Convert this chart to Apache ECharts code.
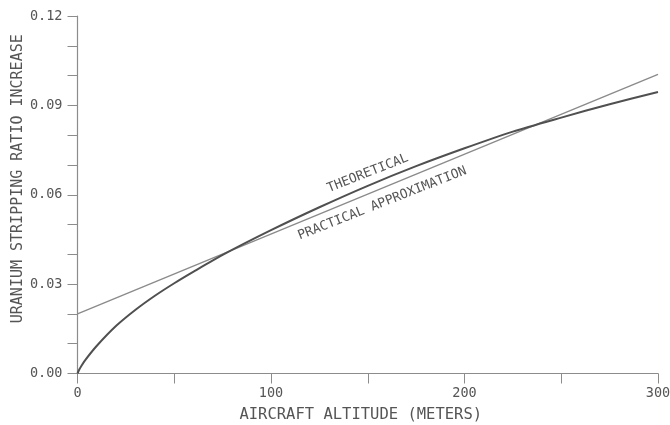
<!DOCTYPE html>
<html>
<head>
<meta charset="utf-8">
<script src="https://cdn.jsdelivr.net/npm/echarts@6/dist/echarts.min.js"></script>
<style>html,body{margin:0;padding:0;background:#fff}#c{width:670px;height:425px}</style>
</head>
<body>
<div id="c"></div>
<script>
// Data
var altitude    = [0, 1, 2, 4, 10, 20, 30, 40, 50, 60, 75, 100, 125, 150, 175, 200, 225, 250, 275, 300];
var theoretical = [0, 0.0014, 0.0025, 0.0045, 0.0093, 0.0160, 0.0214, 0.0261, 0.0303, 0.0342, 0.0398, 0.0481, 0.0558, 0.0630, 0.0696, 0.0756, 0.0812, 0.0859, 0.0904, 0.0945];
var practicalX = [0, 300];
var practicalY = [0.0200, 0.1004];
var xTicks = [0, 100, 200, 300];
var yTicks = [0.00, 0.03, 0.06, 0.09, 0.12];
var labelTheo = {text: 'THEORETICAL', x: 150, y: 0.0672, rot: 21.5};
var labelPrac = {text: 'PRACTICAL APPROXIMATION', x: 157.5, y: 0.0571, rot: 21.5};

var FONT = 'DejaVu Sans Mono';
var INK = '#555';

var chart = echarts.init(document.getElementById('c'));
var option = {
  animation: false,
  backgroundColor: '#fff',
  grid: {left: 77.5, right: 12, top: 16, bottom: 51.5, containLabel: false, outerBoundsMode: 'none'},
  xAxis: {
    type: 'value', min: 0, max: 300, interval: 50,
    name: 'AIRCRAFT ALTITUDE (METERS)', nameLocation: 'middle', nameGap: 33, nameMoveOverlap: false,
    nameTextStyle: {fontFamily: FONT, fontSize: 15.5, color: INK, padding: [0, 14, 0, 0]},
    axisLine: {show: true, lineStyle: {color: '#8c8c8c', width: 1.2}},
    axisTick: {show: true, inside: false, length: 10, lineStyle: {color: '#8c8c8c', width: 1}},
    axisLabel: {
      margin: 13, fontFamily: FONT, fontSize: 13.5, color: INK,
      formatter: function (v) { return xTicks.indexOf(v) >= 0 ? String(v) : ''; }
    },
    splitLine: {show: false}
  },
  yAxis: {
    type: 'value', min: 0, max: 0.12, interval: 0.01,
    name: 'URANIUM STRIPPING RATIO INCREASE', nameLocation: 'middle', nameGap: 52, nameMoveOverlap: false,
    nameRotate: 90,
    nameTextStyle: {fontFamily: FONT, fontSize: 15, color: INK, padding: [0, 0, 0, 32]},
    axisLine: {show: true, lineStyle: {color: '#8c8c8c', width: 1.2}},
    axisTick: {show: true, inside: false, length: 10, lineStyle: {color: '#8c8c8c', width: 1}},
    axisLabel: {
      margin: 15, fontFamily: FONT, fontSize: 13.5, color: INK,
      formatter: function (v) {
        for (var i = 0; i < yTicks.length; i++) {
          if (Math.abs(yTicks[i] - v) < 1e-6) return yTicks[i].toFixed(2);
        }
        return '';
      }
    },
    splitLine: {show: false}
  },
  series: [
    {
      name: 'Practical approximation', type: 'line', symbol: 'none',
      data: practicalX.map(function (x, i) { return [x, practicalY[i]]; }),
      lineStyle: {color: '#8a8a8a', width: 1.3}, z: 2
    },
    {
      name: 'Theoretical', type: 'line', symbol: 'none', smooth: 0.25,
      data: altitude.map(function (x, i) { return [x, theoretical[i]]; }),
      lineStyle: {color: '#505050', width: 2}, z: 3
    }
  ]
};
chart.setOption(option);

function place(l) {
  var p = chart.convertToPixel({gridIndex: 0}, [l.x, l.y]);
  return {
    type: 'text', x: p[0], y: p[1], rotation: l.rot * Math.PI / 180,
    style: {text: l.text, fontFamily: FONT, fontSize: 13, fill: INK, align: 'center', verticalAlign: 'middle'}
  };
}
chart.setOption({graphic: [place(labelTheo), place(labelPrac)]});
</script>
</body>
</html>
